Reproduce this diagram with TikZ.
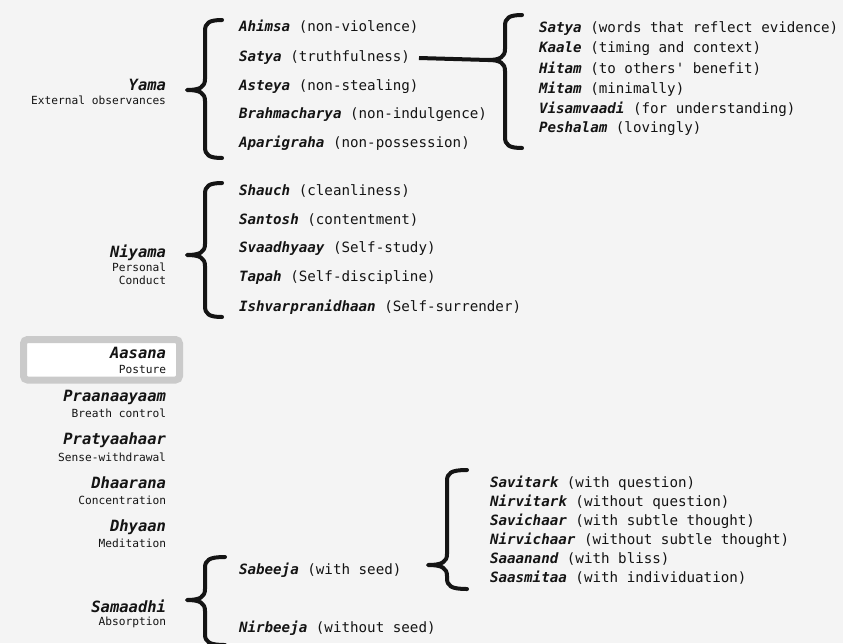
\documentclass[tikz,border=0pt]{standalone}
\usepackage{fontspec}
\newfontfamily\mono{DejaVu Sans Mono}
\definecolor{bg}{HTML}{F4F4F4}
\definecolor{ink}{HTML}{141414}
\definecolor{boxgray}{HTML}{CACACA}
\newcommand\term[1]{{\bfseries\itshape #1}}
\newcommand\mybrace[6]{% x0 xm x1 yt yc yb
  \draw[brc] (#3,#4) .. controls (#2+4,#4) and (#2,#4+3) .. (#2,#4+11) -- (#2,#5-11)
    .. controls (#2,#5-3) and (#2-5,#5) .. (#1,#5)
    .. controls (#2-5,#5) and (#2,#5+3) .. (#2,#5+11) -- (#2,#6-11)
    .. controls (#2,#6-3) and (#2+4,#6) .. (#3,#6);}
\begin{document}
\begin{tikzpicture}[x=1pt,y=-1pt,
  every node/.style={inner sep=0pt,outer sep=0pt,text=ink},
  item/.style={anchor=west,font=\mono\fontsize{14.2}{16}\selectfont},
  subitem/.style={anchor=west,font=\mono\fontsize{14.2}{16}\selectfont},
  head/.style={anchor=east,font=\mono\fontsize{15.5}{18}\selectfont\bfseries\itshape},
  sub/.style={anchor=east,font=\mono\fontsize{11.2}{13}\selectfont},
  brc/.style={draw=ink,line width=4pt,line cap=round,line join=round},
  conn/.style={draw=ink,line width=4pt},
  aasbox/.style={draw=boxgray,line width=7pt,fill=white,rounded corners=4pt}]
\fill[bg] (0,0) rectangle (843,643);
\useasboundingbox (0,0) rectangle (843,643);

% ---- Yama ----
\node[head] (yama) at (166,85) {Yama};
\node[sub] (yamas) at (166,100) {External observances};
\mybrace{187}{205}{222}{20}{90}{158}
\node[item] (ahimsa) at (239,27) {\term{Ahimsa} (non-violence)};
\node[item] (satya) at (239,58) {\term{Satya} (truthfulness)};
\node[item] (asteya) at (239,87) {\term{Asteya} (non-stealing)};
\node[item] (brahma) at (239,115) {\term{Brahmacharya} (non-indulgence)};
\node[item] (apari) at (239,143) {\term{Aparigraha} (non-possession)};

% ---- Satya detail ----
\coordinate (scusp) at (488,60);
\draw[conn] ([xshift=9pt]satya.east) -- (scusp);
\mybrace{488}{505}{522}{15}{60}{148}
\node[subitem] (s1) at (539,29) {\term{Satya} (words that reflect evidence)};
\node[subitem] (s2) at (539,49) {\term{Kaale} (timing and context)};
\node[subitem] (s3) at (539,69) {\term{Hitam} (to others' benefit)};
\node[subitem] (s4) at (539,89) {\term{Mitam} (minimally)};
\node[subitem] (s5) at (539,109) {\term{Visamvaadi} (for understanding)};
\node[subitem] (s6) at (539,129) {\term{Peshalam} (lovingly)};

% ---- Niyama ----
\node[head] (niyama) at (166,253) {Niyama};
\node[sub] (niyamas1) at (166,267) {Personal};
\node[sub] (niyamas2) at (166,280) {Conduct};
\mybrace{187}{205}{222}{183}{255}{317}
\node[item] (shauch) at (239,191) {\term{Shauch} (cleanliness)};
\node[item] (santosh) at (239,220) {\term{Santosh} (contentment)};
\node[item] (svaadh) at (239,249) {\term{Svaadhyaay} (Self-study)};
\node[item] (tapah) at (239,278) {\term{Tapah} (Self-discipline)};
\node[item] (ishvar) at (239,307) {\term{Ishvarpranidhaan} (Self-surrender)};

% ---- Aasana and following limbs ----
\draw[aasbox] (23.5,339.5) rectangle (179.5,380);
\node[head] (aasana) at (166,353) {Aasana};
\node[sub] (aasanas) at (166,369) {Posture};
\node[head] (praana) at (166,397) {Praanaayaam};
\node[sub] (praanas) at (166,413) {Breath control};
\node[head] (pratya) at (166,440) {Pratyaahaar};
\node[sub] (pratyas) at (166,457) {Sense-withdrawal};
\node[head] (dhaarana) at (166,483) {Dhaarana};
\node[sub] (dhaaranas) at (166,500) {Concentration};
\node[head] (dhyaan) at (166,527) {Dhyaan};
\node[sub] (dhyaans) at (166,543) {Meditation};

% ---- Samaadhi ----
\node[head] (samaadhi) at (166,606) {Samaadhi};
\node[sub] (samaadhis) at (166,622) {Absorption};
\mybrace{187}{205}{225}{557}{600}{645}
\node[item] (sabeeja) at (239,570) {\term{Sabeeja} (with seed)};
\node[item] (nirbeeja) at (239,628) {\term{Nirbeeja} (without seed)};

% ---- Sabeeja detail ----
\mybrace{428}{447}{467}{470}{565}{589}
\node[subitem] (v1) at (490,483) {\term{Savitark} (with question)};
\node[subitem] (v2) at (490,502) {\term{Nirvitark} (without question)};
\node[subitem] (v3) at (490,521) {\term{Savichaar} (with subtle thought)};
\node[subitem] (v4) at (490,540) {\term{Nirvichaar} (without subtle thought)};
\node[subitem] (v5) at (490,559) {\term{Saaanand} (with bliss)};
\node[subitem] (v6) at (490,578) {\term{Saasmitaa} (with individuation)};
\end{tikzpicture}
\end{document}
